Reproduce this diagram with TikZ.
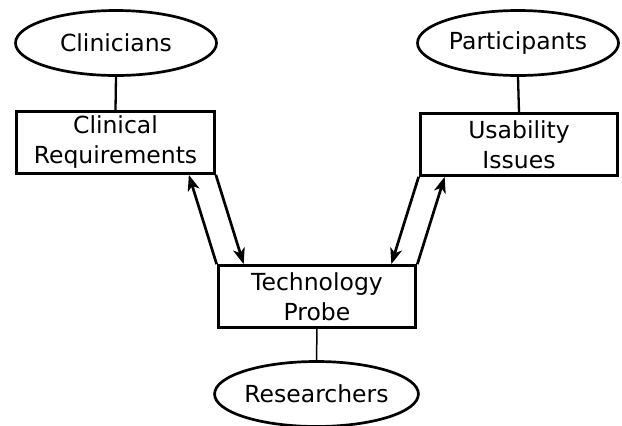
\documentclass[tikz,border=0pt]{standalone}
\usepackage{fontspec}
\setmainfont{DejaVu Sans}
\usetikzlibrary{shapes.geometric, arrows.meta, positioning}

\begin{document}
\begin{tikzpicture}[x=1pt, y=-1pt,
  actor/.style={ellipse, draw, line width=2.7pt, minimum width=201pt, minimum height=65pt, inner sep=0pt, font=\fontsize{23.5}{30}\selectfont},
  blk/.style={rectangle, draw, line width=3.2pt, minimum width=197.5pt, minimum height=61.5pt, inner sep=0pt, align=center, font=\fontsize{23.5}{30}\selectfont},
  link/.style={line width=2.3pt},
  arrow/.style={-{Stealth[length=16pt, width=12pt, inset=4.5pt]}, line width=2.7pt}
]
  \useasboundingbox (0,0) rectangle (622,426);

  % Stakeholders
  \node[actor] (clin) at (116,43) {Clinicians};
  \node[actor] (part) at (518,43) {Participants};
  \node[actor] (res) at (316.5,394) {Researchers};

  % Outcomes
  \node[blk] (req) at (115.5,142.5) {Clinical\\Requirements};
  \node[blk] (usab) at (519,144.5) {Usability\\Issues};
  \node[blk] (probe) at (317,296.5) {Technology\\Probe};

  \draw[link] (clin.south) -- (req.north);
  \draw[link] (part.south) -- (usab.north);
  \draw[link, line width=1.5pt] (probe.south) -- (res.north);

  \draw[arrow] (probe.north west) -- ([xshift=-27pt]req.south east);
  \draw[arrow] (req.south east) -- ([xshift=27pt]probe.north west);
  \draw[arrow] (usab.south west) -- ([xshift=-26pt]probe.north east);
  \draw[arrow] (probe.north east) -- ([xshift=26pt]usab.south west);
\end{tikzpicture}
\end{document}
